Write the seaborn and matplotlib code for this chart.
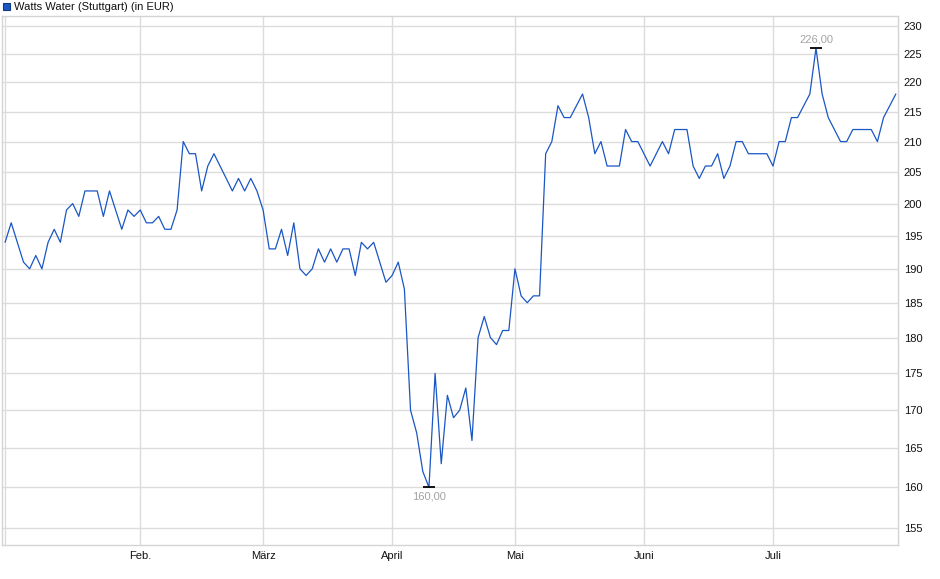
import numpy as np
import pandas as pd
import matplotlib
matplotlib.use('Agg')
import matplotlib.pyplot as plt
import seaborn as sns
from matplotlib.patches import Rectangle
from matplotlib.ticker import FixedLocator, FixedFormatter, NullLocator

# -----------------------------------------------------------------------------
# Data: Watts Water (Stuttgart), daily close in EUR, 2 Jan - 29 Jul 2025
# -----------------------------------------------------------------------------
holidays = ['2025-04-18', '2025-04-21', '2025-05-01']
dates = pd.bdate_range('2025-01-02', '2025-07-29').drop(pd.to_datetime(holidays))

prices = [
    194, 197, 194, 191, 190, 192, 190, 194, 196, 194, 199, 200, 198, 202, 202,
    202, 198, 202, 199, 196, 199, 198, 199, 197, 197, 198, 196, 196, 199, 210,
    208, 208, 202, 206, 208, 206, 204, 202, 204, 202, 204, 202, 199, 193, 193,
    196, 192, 197, 190, 189, 190, 193, 191, 193, 191, 193, 193, 189, 194, 193,
    194, 191, 188, 189, 191, 187, 170, 167, 162, 160, 175, 163, 172, 169, 170,
    173, 166, 180, 183, 180, 179, 181, 181, 190, 186, 185, 186, 186, 208, 210,
    216, 214, 214, 216, 218, 214, 208, 210, 206, 206, 206, 212, 210, 210, 208,
    206, 208, 210, 208, 212, 212, 212, 206, 204, 206, 206, 208, 204, 206, 210,
    210, 208, 208, 208, 208, 206, 210, 210, 214, 214, 216, 218, 226, 218, 214,
    212, 210, 210, 212, 212, 212, 212, 210, 214, 216, 218,
]

month_labels = ['Feb.', 'März', 'April', 'Mai', 'Juni', 'Juli']
month_numbers = [2, 3, 4, 5, 6, 7]
y_ticks = [155, 160, 165, 170, 175, 180, 185, 190, 195, 200,
           205, 210, 215, 220, 225, 230]
title = 'Watts Water (Stuttgart) (in EUR)'

df = pd.DataFrame({'pos': np.arange(len(prices)), 'date': dates, 'price': prices})
month_pos = [int(df.loc[df['date'].dt.month == m, 'pos'].iloc[0]) for m in month_numbers]

# -----------------------------------------------------------------------------
# Plot
# -----------------------------------------------------------------------------
sns.set_theme(style='white')
plt.rcParams['font.family'] = ['Liberation Sans', 'DejaVu Sans']

line_color = '#1a56c4'
grid_color = '#dcdcdc'
W, H = 940, 579

fig = plt.figure(figsize=(W / 100, H / 100), dpi=100)
ax = fig.add_axes([2 / W, 1 - 545 / H, 896.3 / W, 529 / H])

sns.lineplot(data=df, x='pos', y='price', ax=ax, color=line_color,
             linewidth=0.9, zorder=3)

ax.set_yscale('log')
ax.set_ylim(152.9, 231.8)
ax.set_xlim(-0.5, 145.4)

ax.yaxis.tick_right()
ax.yaxis.set_major_locator(FixedLocator(y_ticks))
ax.yaxis.set_major_formatter(FixedFormatter([str(t) for t in y_ticks]))
ax.yaxis.set_minor_locator(NullLocator())
ax.set_xticks(month_pos)
ax.set_xticklabels(month_labels)
ax.set_xlabel('')
ax.set_ylabel('')

ax.tick_params(axis='y', length=0, pad=4, labelsize=8, colors='#111111')
ax.tick_params(axis='x', length=2, width=1, color=grid_color, pad=2,
               labelsize=8, labelcolor='#111111')
ax.grid(True, color=grid_color, linewidth=1)
ax.axvline(0, color=grid_color, linewidth=1, zorder=0)
for sp in ax.spines.values():
    sp.set_color('#d4d4d4')
    sp.set_linewidth(1)

# extreme values
i_max = int(np.argmax(prices))
i_min = int(np.argmin(prices))
for i, off, va in [(i_max, 3, 'bottom'), (i_min, -3, 'top')]:
    v = prices[i]
    ax.plot([i], [v], marker='_', markersize=9, markeredgewidth=1.3,
            color='black', zorder=4)
    ax.annotate(f'{v:.2f}'.replace('.', ','), xy=(i, v), xytext=(0, off),
                textcoords='offset points', ha='center', va=va,
                fontsize=8, color='#a3a3a3')

# legend above the plot area
fig.patches.append(Rectangle((3 / W, 1 - 9.5 / H), 6.5 / W, 6.5 / H,
                             transform=fig.transFigure, facecolor=line_color,
                             edgecolor='#123a80', linewidth=0.8))
fig.text(14 / W, 1 - 6.5 / H, title, ha='left', va='center',
         fontsize=8, color='#111111')

fig.savefig('out.png', dpi=100)
